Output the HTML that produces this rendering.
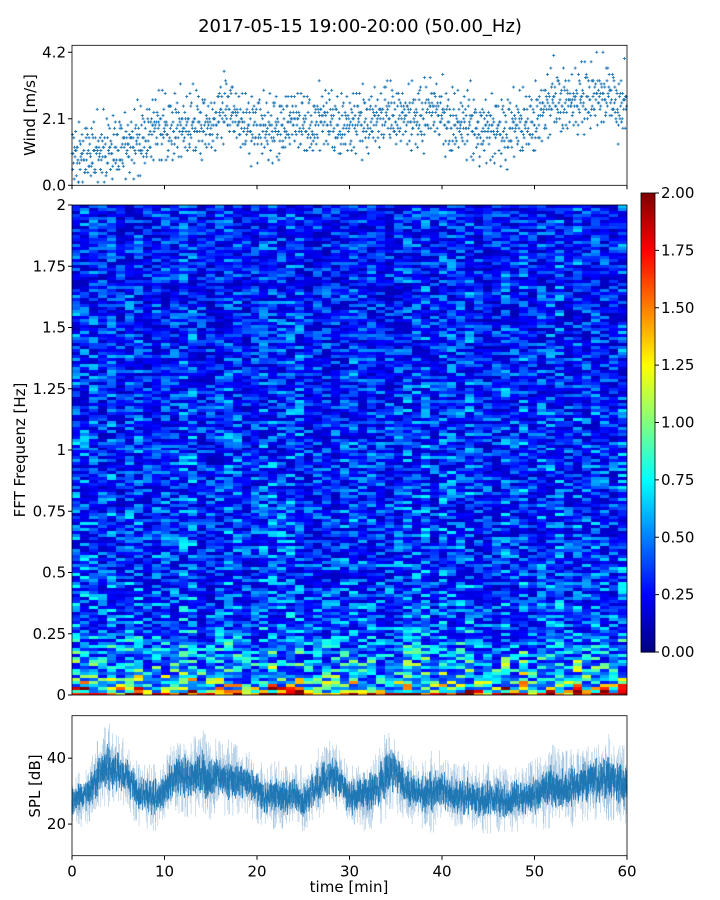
<!DOCTYPE html>
<html><head><meta charset="utf-8">
<style>
html,body{margin:0;padding:0;background:#fff;}
body{width:720px;height:900px;overflow:hidden;position:relative;font-family:"DejaVu Sans","Liberation Sans",sans-serif;}
svg{position:absolute;left:0;top:0;}
canvas{position:absolute;left:72px;top:205px;}
</style></head>
<body>
<canvas id="spec" width="555" height="490"></canvas>
<svg id="chart" width="720" height="900"></svg>
<script>
// ---- data ----
const minutes = [0,1,2,3,4,5,6,7,8,9,10,11,12,13,14,15,16,17,18,19,20,21,22,23,24,25,26,27,28,29,30,31,32,33,34,35,36,37,38,39,40,41,42,43,44,45,46,47,48,49,50,51,52,53,54,55,56,57,58,59,60];
const windMean = [1.0,0.9,1.1,1.0,1.1,1.2,1.3,1.4,1.5,1.9,1.8,1.8,1.8,1.9,2.0,1.8,2.3,2.5,2.0,1.8,2.0,1.7,1.8,1.9,2.1,1.9,1.8,2.2,2.0,1.8,1.9,2.1,2.0,2.1,2.3,2.1,2.2,2.1,2.2,2.5,2.2,1.9,1.9,2.0,1.7,1.8,1.8,1.7,1.9,1.9,2.0,2.4,2.7,2.6,2.6,2.7,2.8,2.8,2.9,2.5,2.6];
const windJitter = [0,0.3,-0.2,0.5,-0.4,0.1,-0.6,0.7,-0.1,0.2,-0.3,0.4,-0.8,0.9,-0.5,0.15,-0.15,0.6,-0.7,0.35,-0.35,0.05,1.0,-0.9];
const splMean = [27,28,30,36,38,36,34,30,29,28,30,35,34,34,36,33,35,34,33,33,30,28,29,28,29,27,30,33,35,33,28,29,29,31,35,36,31,30,29,30,31,29,28,29,27,28,28,27,28,28,29,30,32,31,31,32,33,33,34,33,32];
const splSpread = [6,6,7,8,9,8,7,7,7,7,7,8,8,8,9,8,8,8,7,7,7,7,7,7,7,7,7,8,7,7,7,7,8,8,9,8,7,7,7,9,8,7,7,7,7,8,7,7,7,7,7,8,9,8,8,8,9,9,9,8,8];
const freqBands = [0,0.02,0.05,0.1,0.15,0.2,0.3,0.5,1,1.5,2];
const bandLevel = [1.8,1.1,0.8,0.65,0.55,0.5,0.42,0.38,0.36,0.33,0.32];
const colTime = [0,6,12,18,24,30,36,42,48,54,60];
const colFactor = [1.0,1.0,1.02,0.98,1.0,1.03,1.0,1.05,0.98,1.02,1.05];
const windTicks = [0.0,2.1,4.2];
const freqTicks = [0,0.25,0.5,0.75,1,1.25,1.5,1.75,2];
const freqLabels = ["0","0.25","0.5","0.75","1","1.25","1.5","1.75","2"];
const splTicks = [20,40];
const timeTicks = [0,10,20,30,40,50,60];
const cbTicks = [0,0.25,0.5,0.75,1,1.25,1.5,1.75,2];

// ---- axes ----
const X0=72,X1=627;
const xS = t => X0 + (t/60)*(X1-X0);
const W={top:45.3,bot:185.3,max:4.42};
const yW = v => W.bot - v/W.max*(W.bot-W.top);
const S={top:205,bot:695};
const yF = f => S.bot - f/2*(S.bot-S.top);
const P={top:715.7,bot:855.7,min:10.4,max:52.9};
const yP = v => P.bot - (v-P.min)/(P.max-P.min)*(P.bot-P.top);
const C={x:641,w:14,top:193,bot:652};
const yC = v => C.bot - v/2*(C.bot-C.top);

function interp(xs,ys,x){for(let i=0;i<xs.length-1;i++){if(x<=xs[i+1]){const t=(x-xs[i])/(xs[i+1]-xs[i]);return ys[i]+t*(ys[i+1]-ys[i]);}}return ys[ys.length-1];}
function hash(i,j){let h=(i*374761393+j*668265263)^0x5bd1e995;h=(h^(h>>>13))*1274126177;h=h^(h>>>16);return ((h>>>0)%10000)/10000;}
function jet(v){const x=Math.max(0,Math.min(1,v/2));const c=k=>Math.round(255*Math.max(0,Math.min(1,1.5-Math.abs(4*x-k))));return `rgb(${c(3)},${c(2)},${c(1)})`;}

const NS="http://www.w3.org/2000/svg";
const svg=document.getElementById('chart');
function el(tag,attrs,parent){const e=document.createElementNS(NS,tag);for(const k in attrs)e.setAttribute(k,attrs[k]);(parent||svg).appendChild(e);return e;}
function txt(s,x,y,size,anchor,parent,rot){const e=el('text',{x:x,y:y,'font-size':size,'text-anchor':anchor||'middle',fill:'#000'},parent);if(rot)e.setAttribute('transform',`rotate(-90 ${x} ${y})`);e.textContent=s;return e;}

// title
const title=txt('2017-05-15 19:00-20:00 (50.00_Hz)',360,32,18,'middle');



// ---- wind panel ----
const gw=el('g',{});


let path='';
let k=0;
for(let m=0;m<60;m++){
  for(let s=0;s<25;s++){
    const t=m+s/25;
    const mean=interp(minutes,windMean,t);
    const jit=windJitter[(k*7+m)%windJitter.length]*(0.6+0.8*hash(k,3));
    const v=Math.max(0.1,Math.round((mean+jit)*10)/10);
    k++;
    const x=xS(t),y=yW(v);
    path+=`M${(x-1.5).toFixed(1)} ${y.toFixed(1)}h3M${x.toFixed(1)} ${(y-1.5).toFixed(1)}v3`;
  }
}
const wp=el('path',{d:path,stroke:'#1f77b4','stroke-width':0.9,fill:'none'},gw);


el('rect',{x:X0,y:W.top,width:X1-X0,height:W.bot-W.top,fill:'none',stroke:'#000','stroke-width':0.8},gw);
windTicks.forEach(v=>{el('line',{x1:X0-4,x2:X0,y1:yW(v),y2:yW(v),stroke:'#000'},gw);txt(v.toFixed(1),X0-6,yW(v)+5,15,'end',gw);});
timeTicks.forEach(t=>el('line',{x1:xS(t),x2:xS(t),y1:W.bot,y2:W.bot+4,stroke:'#000'},gw));
const wl=txt('Wind [m/s]',35,115,15,'middle',gw,true);



// ---- spectrogram ----
const cv=document.getElementById('spec');const ctx=cv.getContext('2d');
const NR=164,NC=62;
for(let i=0;i<NC;i++){
  const t=(i+0.5)*60/NC;
  const cf=interp(colTime,colFactor,t)*(0.85+0.3*hash(i,999));
  for(let j=0;j<NR;j++){
    const f=(j+0.5)*2/NR;
    const base=interp(freqBands,bandLevel,f);
    const h=hash(i,j);
    let v=base*cf*(0.35+1.5*Math.pow(h,1.6));
    if(j===0)v=base*cf*(0.8+0.5*h);
    ctx.fillStyle=jet(v);
    const x0=Math.floor(i*555/NC),x1=Math.floor((i+1)*555/NC);
    const y1=490-Math.floor(j*490/NR),y0=490-Math.floor((j+1)*490/NR);
    ctx.fillRect(x0,y0,x1-x0,y1-y0);
  }
}
const gs=el('g',{});


el('rect',{x:X0,y:S.top,width:X1-X0,height:S.bot-S.top,fill:'none',stroke:'#000','stroke-width':0.8},gs);
freqTicks.forEach((f,i)=>{el('line',{x1:X0-4,x2:X0,y1:yF(f),y2:yF(f),stroke:'#000'},gs);txt(freqLabels[i],X0-6,yF(f)+5,15,'end',gs);});
const fl=txt('FFT Frequenz [Hz]',25,450,15,'middle',gs,true);



// colorbar
const gc=el('g',{});


for(let i=0;i<200;i++){const v=i/100;el('rect',{x:C.x,y:yC(v+0.01),width:C.w,height:(C.bot-C.top)/200+0.6,fill:jet(v+0.005)},gc);}
el('rect',{x:C.x,y:C.top,width:C.w,height:C.bot-C.top,fill:'none',stroke:'#000','stroke-width':0.8},gc);
cbTicks.forEach(v=>{el('line',{x1:C.x+C.w,x2:C.x+C.w+4,y1:yC(v),y2:yC(v),stroke:'#000'},gc);txt(v.toFixed(2),C.x+C.w+6,yC(v)+5,15,'start',gc);});

// ---- SPL panel ----
const gp=el('g',{});


let outer='',inner='';
const N=1100;
for(let i=0;i<=N;i++){
  const t=i*60/N;
  const m=interp(minutes,splMean,t),sp=interp(minutes,splSpread,t);
  const h=hash(i,7),h2=hash(i,13),h3=hash(i,21);
  const hi=m+sp*(0.4+1.1*h*h),lo=m-sp*(0.4+1.1*h2*h2);
  const c=m+(h3-0.5)*sp*0.6;
  const hi2=c+sp*(0.15+0.45*h2),lo2=c-sp*(0.15+0.45*h);
  const x=xS(t).toFixed(1);
  outer+=`M${x} ${yP(lo).toFixed(1)}V${yP(hi).toFixed(1)}`;
  inner+=`M${x} ${yP(lo2).toFixed(1)}V${yP(hi2).toFixed(1)}`;
}
const po=el('path',{d:outer,stroke:'#a9c8e2','stroke-width':0.6,fill:'none'},gp);


const pi=el('path',{d:inner,stroke:'#1f77b4','stroke-width':0.8,fill:'none'},gp);


el('rect',{x:X0,y:P.top,width:X1-X0,height:P.bot-P.top,fill:'none',stroke:'#000','stroke-width':0.8},gp);
splTicks.forEach(v=>{el('line',{x1:X0-4,x2:X0,y1:yP(v),y2:yP(v),stroke:'#000'},gp);txt(String(v),X0-6,yP(v)+5,15,'end',gp);});
timeTicks.forEach(t=>{el('line',{x1:xS(t),x2:xS(t),y1:P.bot,y2:P.bot+4,stroke:'#000'},gp);txt(String(t),xS(t),P.bot+21,15,'middle',gp);});
const sl=txt('SPL [dB]',40,786,15,'middle',gp,true);


const xl=txt('time [min]',349,892,15,'middle',gp);


</script>
</body></html>
